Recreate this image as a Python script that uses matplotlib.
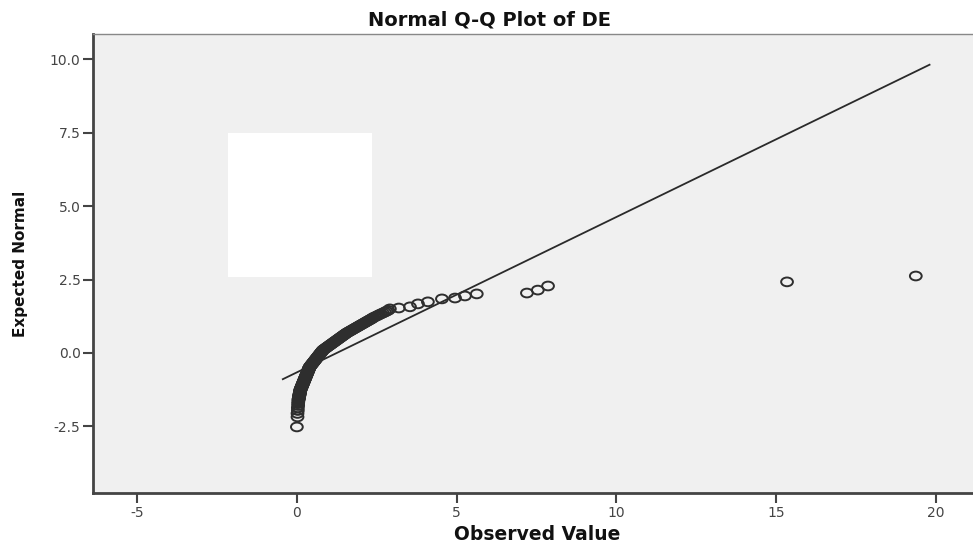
import matplotlib
matplotlib.use("Agg")
import matplotlib.pyplot as plt
from matplotlib.path import Path
from matplotlib.transforms import Affine2D
from matplotlib.patches import Rectangle

plt.rcParams["axes.unicode_minus"] = False

observed = [0.000, 0.020, 0.020, 0.030, 0.030, 0.040, 0.040, 0.045,
            0.050, 0.054, 0.057, 0.061, 0.064, 0.068, 0.071, 0.075, 0.078,
            0.082, 0.085, 0.089, 0.092, 0.096, 0.099, 0.103, 0.106,
            0.110, 0.117, 0.125, 0.132, 0.140, 0.147, 0.155, 0.162, 0.170,
            0.177, 0.184, 0.192, 0.199, 0.207, 0.214, 0.222, 0.229, 0.237,
            0.244, 0.251, 0.259, 0.266, 0.274, 0.281, 0.289, 0.296, 0.303,
            0.311, 0.318, 0.326, 0.333, 0.341, 0.348, 0.355, 0.363, 0.370,
            0.378, 0.385, 0.393,
            0.400, 0.414, 0.429, 0.443, 0.458, 0.472, 0.487, 0.501, 0.516,
            0.530, 0.545, 0.559, 0.574, 0.588, 0.603, 0.617, 0.632, 0.646,
            0.661, 0.675, 0.690, 0.704, 0.719, 0.733, 0.748, 0.762, 0.777,
            0.791, 0.806,
            0.820, 0.846, 0.871, 0.897, 0.922, 0.948, 0.973, 0.999, 1.024,
            1.050, 1.075, 1.101, 1.126, 1.152, 1.177, 1.203, 1.228, 1.254,
            1.279, 1.305, 1.330, 1.356, 1.381, 1.407, 1.432, 1.458, 1.483,
            1.509, 1.534,
            1.560, 1.592, 1.624, 1.656, 1.689, 1.721, 1.753, 1.785, 1.817,
            1.849, 1.882, 1.914, 1.946, 1.978, 2.010, 2.042, 2.075, 2.107,
            2.139, 2.171, 2.203, 2.235, 2.268, 2.300, 2.332, 2.364,
            2.40, 2.46, 2.52, 2.57, 2.63, 2.69, 2.75, 2.80, 2.86,
            2.91, 3.19, 3.54, 3.79, 4.10, 4.54, 4.95, 5.26, 5.63,
            7.20, 7.54, 7.86, 15.34, 19.37]
expected = [-2.52, -2.18, -2.06, -1.96, -1.87, -1.79, -1.72, -1.66,
            -1.60, -1.58, -1.56, -1.54, -1.52, -1.50, -1.48, -1.46, -1.44,
            -1.42, -1.40, -1.38, -1.36, -1.34, -1.32, -1.30, -1.28,
            -1.26, -1.24, -1.22, -1.20, -1.18, -1.16, -1.14, -1.12, -1.10,
            -1.08, -1.06, -1.04, -1.02, -1.00, -0.98, -0.96, -0.94, -0.92,
            -0.90, -0.88, -0.86, -0.84, -0.82, -0.80, -0.78, -0.76, -0.74,
            -0.72, -0.70, -0.68, -0.66, -0.64, -0.62, -0.60, -0.58, -0.56,
            -0.54, -0.52, -0.50,
            -0.48, -0.46, -0.44, -0.42, -0.40, -0.38, -0.36, -0.34, -0.32,
            -0.30, -0.28, -0.26, -0.24, -0.22, -0.20, -0.18, -0.16, -0.14,
            -0.12, -0.10, -0.08, -0.06, -0.04, -0.02, 0.00, 0.02, 0.04,
            0.06, 0.08,
            0.10, 0.12, 0.14, 0.16, 0.18, 0.20, 0.22, 0.24, 0.26,
            0.28, 0.30, 0.32, 0.34, 0.36, 0.38, 0.40, 0.42, 0.44,
            0.46, 0.48, 0.50, 0.52, 0.54, 0.56, 0.58, 0.60, 0.62,
            0.64, 0.66,
            0.68, 0.70, 0.72, 0.74, 0.76, 0.78, 0.80, 0.82, 0.84,
            0.86, 0.88, 0.90, 0.92, 0.94, 0.96, 0.98, 1.00, 1.02,
            1.04, 1.06, 1.08, 1.10, 1.12, 1.14, 1.16, 1.18,
            1.21, 1.24, 1.27, 1.30, 1.33, 1.36, 1.39, 1.42, 1.45,
            1.50, 1.53, 1.57, 1.67, 1.74, 1.84, 1.87, 1.94, 2.01,
            2.04, 2.14, 2.28, 2.42, 2.62]

# reference line: expected = (x - mean) / sd
line_x = [-0.44, 19.8]
mean_de = 1.25
sd_de = 1.89

x_ticks = [-5, 0, 5, 10, 15, 20]
y_ticks = [-2.5, 0.0, 2.5, 5.0, 7.5, 10.0]

fig = plt.figure(figsize=(9.73, 5.49), dpi=100)
ax = fig.add_axes([0.0956, 0.102, 0.9044, 0.836])
ax.set_facecolor("#f0f0f0")

ax.set_xlim(-6.38, 21.16)
ax.set_ylim(-4.77, 10.86)

line_y = [(v - mean_de) / sd_de for v in line_x]
ax.plot(line_x, line_y, color="#2a2a2a", lw=1.3, zorder=2)

# slightly wide ellipse marker, like the stretched original
ell = Path.unit_circle().transformed(Affine2D().scale(1.35, 1.0))
ax.scatter(observed, expected, marker=ell, s=72, facecolors="none",
           edgecolors="#2e2e2e", linewidths=1.4, zorder=3)

# blanked-out box
ax.add_patch(Rectangle((-2.16, 2.59), 4.51, 4.9, facecolor="white",
                       edgecolor="none", zorder=4))

for s in ["left", "bottom"]:
    ax.spines[s].set_color("#444444")
    ax.spines[s].set_linewidth(2)
ax.spines["top"].set_color("#888888")
ax.spines["top"].set_linewidth(1)
ax.spines["right"].set_visible(False)

ax.set_xticks(x_ticks)
ax.set_yticks(y_ticks)
ax.set_yticklabels([f"{v:.1f}" for v in y_ticks])
ax.tick_params(direction="out", length=7, width=1.5, color="#444444",
               labelsize=10, labelcolor="#444444", pad=2)

fig.text(0.503, 0.964, "Normal Q-Q Plot of DE", ha="center", va="center",
         fontsize=14, fontweight="bold", color="#111111")
fig.text(0.552, 0.026, "Observed Value", ha="center", va="center",
         fontsize=13.5, fontweight="bold", color="#111111")
fig.text(0.021, 0.52, "Expected Normal", ha="center", va="center",
         rotation=90, fontsize=11, fontweight="bold", color="#111111",
         family=["Liberation Sans Narrow", "DejaVu Sans"])

fig.savefig("out.png", dpi=100)
